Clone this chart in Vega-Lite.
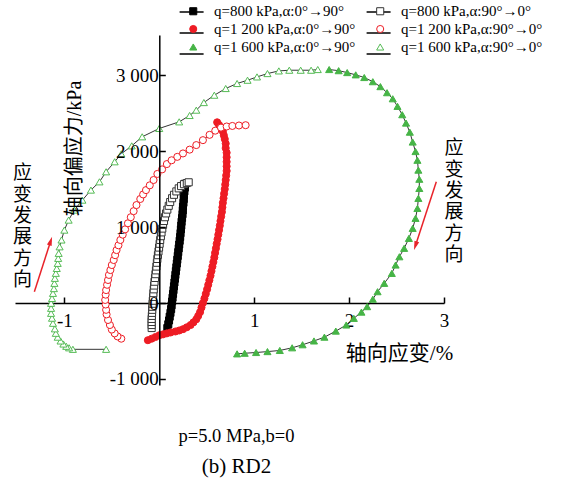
{
"$schema": "https://vega.github.io/schema/vega-lite/v6.json",
"width": 429, "height": 350,
"autosize": {"type": "none"},
"padding": {"left": 15, "top": 35, "right": 120, "bottom": 101},
"background": "white",
"config": {"view": {"stroke": null}, "font": "Liberation Serif"},
"title": {"text": "p=5.0 MPa,b=0", "subtitle": "(b) RD2", "orient": "bottom", "anchor": "middle", "dx": 7, "offset": 38, "font": "Liberation Serif", "fontSize": 18.5, "fontWeight": "normal", "color": "black", "subtitleFont": "Liberation Serif", "subtitleFontSize": 21, "subtitleColor": "black", "subtitlePadding": 11},
"datasets": {
"pts": [
{"s":"q=800 kPa,α:0°→90°","i":1,"x":0.27,"y":1570},{"s":"q=800 kPa,α:0°→90°","i":2,"x":0.27,"y":1520},{"s":"q=800 kPa,α:0°→90°","i":3,"x":0.265,"y":1470},{"s":"q=800 kPa,α:0°→90°","i":4,"x":0.26,"y":1420},{"s":"q=800 kPa,α:0°→90°","i":5,"x":0.258,"y":1370},{"s":"q=800 kPa,α:0°→90°","i":6,"x":0.255,"y":1320},{"s":"q=800 kPa,α:0°→90°","i":7,"x":0.25,"y":1270},{"s":"q=800 kPa,α:0°→90°","i":8,"x":0.248,"y":1220},{"s":"q=800 kPa,α:0°→90°","i":9,"x":0.245,"y":1170},{"s":"q=800 kPa,α:0°→90°","i":10,"x":0.24,"y":1120},{"s":"q=800 kPa,α:0°→90°","i":11,"x":0.235,"y":1070},{"s":"q=800 kPa,α:0°→90°","i":12,"x":0.232,"y":1020},{"s":"q=800 kPa,α:0°→90°","i":13,"x":0.228,"y":970},{"s":"q=800 kPa,α:0°→90°","i":14,"x":0.224,"y":920},{"s":"q=800 kPa,α:0°→90°","i":15,"x":0.22,"y":870},{"s":"q=800 kPa,α:0°→90°","i":16,"x":0.215,"y":820},{"s":"q=800 kPa,α:0°→90°","i":17,"x":0.21,"y":770},{"s":"q=800 kPa,α:0°→90°","i":18,"x":0.205,"y":720},{"s":"q=800 kPa,α:0°→90°","i":19,"x":0.2,"y":670},{"s":"q=800 kPa,α:0°→90°","i":20,"x":0.195,"y":620},{"s":"q=800 kPa,α:0°→90°","i":21,"x":0.19,"y":570},{"s":"q=800 kPa,α:0°→90°","i":22,"x":0.185,"y":520},{"s":"q=800 kPa,α:0°→90°","i":23,"x":0.18,"y":470},{"s":"q=800 kPa,α:0°→90°","i":24,"x":0.175,"y":420},{"s":"q=800 kPa,α:0°→90°","i":25,"x":0.17,"y":370},{"s":"q=800 kPa,α:0°→90°","i":26,"x":0.165,"y":320},{"s":"q=800 kPa,α:0°→90°","i":27,"x":0.16,"y":270},{"s":"q=800 kPa,α:0°→90°","i":28,"x":0.155,"y":220},{"s":"q=800 kPa,α:0°→90°","i":29,"x":0.15,"y":170},{"s":"q=800 kPa,α:0°→90°","i":30,"x":0.145,"y":120},{"s":"q=800 kPa,α:0°→90°","i":31,"x":0.14,"y":70},{"s":"q=800 kPa,α:0°→90°","i":32,"x":0.135,"y":20},{"s":"q=800 kPa,α:0°→90°","i":33,"x":0.13,"y":-30},{"s":"q=800 kPa,α:0°→90°","i":34,"x":0.125,"y":-80},{"s":"q=800 kPa,α:0°→90°","i":35,"x":0.118,"y":-130},{"s":"q=800 kPa,α:0°→90°","i":36,"x":0.11,"y":-180},{"s":"q=800 kPa,α:0°→90°","i":37,"x":0.103,"y":-230},{"s":"q=800 kPa,α:0°→90°","i":38,"x":0.095,"y":-280},{"s":"q=800 kPa,α:0°→90°","i":39,"x":0.085,"y":-330},
{"s":"q=800 kPa,α:90°→0°","i":1,"x":-0.08,"y":-330},{"s":"q=800 kPa,α:90°→0°","i":2,"x":-0.08,"y":-290},{"s":"q=800 kPa,α:90°→0°","i":3,"x":-0.08,"y":-250},{"s":"q=800 kPa,α:90°→0°","i":4,"x":-0.08,"y":-210},{"s":"q=800 kPa,α:90°→0°","i":5,"x":-0.078,"y":-170},{"s":"q=800 kPa,α:90°→0°","i":6,"x":-0.076,"y":-130},{"s":"q=800 kPa,α:90°→0°","i":7,"x":-0.074,"y":-90},{"s":"q=800 kPa,α:90°→0°","i":8,"x":-0.072,"y":-50},{"s":"q=800 kPa,α:90°→0°","i":9,"x":-0.07,"y":-10},{"s":"q=800 kPa,α:90°→0°","i":10,"x":-0.068,"y":30},{"s":"q=800 kPa,α:90°→0°","i":11,"x":-0.065,"y":80},{"s":"q=800 kPa,α:90°→0°","i":12,"x":-0.062,"y":130},{"s":"q=800 kPa,α:90°→0°","i":13,"x":-0.058,"y":180},{"s":"q=800 kPa,α:90°→0°","i":14,"x":-0.054,"y":230},{"s":"q=800 kPa,α:90°→0°","i":15,"x":-0.05,"y":280},{"s":"q=800 kPa,α:90°→0°","i":16,"x":-0.045,"y":330},{"s":"q=800 kPa,α:90°→0°","i":17,"x":-0.04,"y":380},{"s":"q=800 kPa,α:90°→0°","i":18,"x":-0.035,"y":430},{"s":"q=800 kPa,α:90°→0°","i":19,"x":-0.03,"y":480},{"s":"q=800 kPa,α:90°→0°","i":20,"x":-0.025,"y":530},{"s":"q=800 kPa,α:90°→0°","i":21,"x":-0.02,"y":580},{"s":"q=800 kPa,α:90°→0°","i":22,"x":-0.014,"y":630},{"s":"q=800 kPa,α:90°→0°","i":23,"x":-0.008,"y":680},{"s":"q=800 kPa,α:90°→0°","i":24,"x":-0.002,"y":730},{"s":"q=800 kPa,α:90°→0°","i":25,"x":0.004,"y":780},{"s":"q=800 kPa,α:90°→0°","i":26,"x":0.01,"y":830},{"s":"q=800 kPa,α:90°→0°","i":27,"x":0.017,"y":880},{"s":"q=800 kPa,α:90°→0°","i":28,"x":0.024,"y":930},{"s":"q=800 kPa,α:90°→0°","i":29,"x":0.032,"y":980},{"s":"q=800 kPa,α:90°→0°","i":30,"x":0.04,"y":1030},{"s":"q=800 kPa,α:90°→0°","i":31,"x":0.05,"y":1080},{"s":"q=800 kPa,α:90°→0°","i":32,"x":0.06,"y":1130},{"s":"q=800 kPa,α:90°→0°","i":33,"x":0.072,"y":1180},{"s":"q=800 kPa,α:90°→0°","i":34,"x":0.085,"y":1230},{"s":"q=800 kPa,α:90°→0°","i":35,"x":0.1,"y":1280},{"s":"q=800 kPa,α:90°→0°","i":36,"x":0.115,"y":1330},{"s":"q=800 kPa,α:90°→0°","i":37,"x":0.135,"y":1380},{"s":"q=800 kPa,α:90°→0°","i":38,"x":0.155,"y":1425},{"s":"q=800 kPa,α:90°→0°","i":39,"x":0.18,"y":1470},{"s":"q=800 kPa,α:90°→0°","i":40,"x":0.205,"y":1510},{"s":"q=800 kPa,α:90°→0°","i":41,"x":0.23,"y":1540},{"s":"q=800 kPa,α:90°→0°","i":42,"x":0.26,"y":1565},{"s":"q=800 kPa,α:90°→0°","i":43,"x":0.29,"y":1580},{"s":"q=800 kPa,α:90°→0°","i":44,"x":0.31,"y":1590},
{"s":"q=1 200 kPa,α:0°→90°","i":1,"x":0.61,"y":2380},{"s":"q=1 200 kPa,α:0°→90°","i":2,"x":0.63,"y":2345},{"s":"q=1 200 kPa,α:0°→90°","i":3,"x":0.65,"y":2305},{"s":"q=1 200 kPa,α:0°→90°","i":4,"x":0.67,"y":2260},{"s":"q=1 200 kPa,α:0°→90°","i":5,"x":0.68,"y":2210},{"s":"q=1 200 kPa,α:0°→90°","i":6,"x":0.69,"y":2160},{"s":"q=1 200 kPa,α:0°→90°","i":7,"x":0.7,"y":2100},{"s":"q=1 200 kPa,α:0°→90°","i":8,"x":0.7,"y":2040},{"s":"q=1 200 kPa,α:0°→90°","i":9,"x":0.71,"y":1980},{"s":"q=1 200 kPa,α:0°→90°","i":10,"x":0.71,"y":1920},{"s":"q=1 200 kPa,α:0°→90°","i":11,"x":0.71,"y":1860},{"s":"q=1 200 kPa,α:0°→90°","i":12,"x":0.71,"y":1800},{"s":"q=1 200 kPa,α:0°→90°","i":13,"x":0.71,"y":1740},{"s":"q=1 200 kPa,α:0°→90°","i":14,"x":0.705,"y":1680},{"s":"q=1 200 kPa,α:0°→90°","i":15,"x":0.7,"y":1620},{"s":"q=1 200 kPa,α:0°→90°","i":16,"x":0.695,"y":1560},{"s":"q=1 200 kPa,α:0°→90°","i":17,"x":0.69,"y":1500},{"s":"q=1 200 kPa,α:0°→90°","i":18,"x":0.683,"y":1440},{"s":"q=1 200 kPa,α:0°→90°","i":19,"x":0.677,"y":1380},{"s":"q=1 200 kPa,α:0°→90°","i":20,"x":0.67,"y":1320},{"s":"q=1 200 kPa,α:0°→90°","i":21,"x":0.665,"y":1260},{"s":"q=1 200 kPa,α:0°→90°","i":22,"x":0.66,"y":1200},{"s":"q=1 200 kPa,α:0°→90°","i":23,"x":0.652,"y":1140},{"s":"q=1 200 kPa,α:0°→90°","i":24,"x":0.645,"y":1080},{"s":"q=1 200 kPa,α:0°→90°","i":25,"x":0.638,"y":1020},{"s":"q=1 200 kPa,α:0°→90°","i":26,"x":0.63,"y":960},{"s":"q=1 200 kPa,α:0°→90°","i":27,"x":0.622,"y":900},{"s":"q=1 200 kPa,α:0°→90°","i":28,"x":0.614,"y":840},{"s":"q=1 200 kPa,α:0°→90°","i":29,"x":0.605,"y":780},{"s":"q=1 200 kPa,α:0°→90°","i":30,"x":0.597,"y":720},{"s":"q=1 200 kPa,α:0°→90°","i":31,"x":0.588,"y":660},{"s":"q=1 200 kPa,α:0°→90°","i":32,"x":0.58,"y":600},{"s":"q=1 200 kPa,α:0°→90°","i":33,"x":0.57,"y":540},{"s":"q=1 200 kPa,α:0°→90°","i":34,"x":0.56,"y":480},{"s":"q=1 200 kPa,α:0°→90°","i":35,"x":0.55,"y":420},{"s":"q=1 200 kPa,α:0°→90°","i":36,"x":0.54,"y":360},{"s":"q=1 200 kPa,α:0°→90°","i":37,"x":0.528,"y":300},{"s":"q=1 200 kPa,α:0°→90°","i":38,"x":0.516,"y":240},{"s":"q=1 200 kPa,α:0°→90°","i":39,"x":0.504,"y":180},{"s":"q=1 200 kPa,α:0°→90°","i":40,"x":0.49,"y":120},{"s":"q=1 200 kPa,α:0°→90°","i":41,"x":0.476,"y":60},{"s":"q=1 200 kPa,α:0°→90°","i":42,"x":0.46,"y":0},{"s":"q=1 200 kPa,α:0°→90°","i":43,"x":0.445,"y":-60},{"s":"q=1 200 kPa,α:0°→90°","i":44,"x":0.43,"y":-120},{"s":"q=1 200 kPa,α:0°→90°","i":45,"x":0.41,"y":-170},{"s":"q=1 200 kPa,α:0°→90°","i":46,"x":0.39,"y":-215},{"s":"q=1 200 kPa,α:0°→90°","i":47,"x":0.36,"y":-255},{"s":"q=1 200 kPa,α:0°→90°","i":48,"x":0.33,"y":-290},{"s":"q=1 200 kPa,α:0°→90°","i":49,"x":0.29,"y":-320},{"s":"q=1 200 kPa,α:0°→90°","i":50,"x":0.25,"y":-345},{"s":"q=1 200 kPa,α:0°→90°","i":51,"x":0.21,"y":-362},{"s":"q=1 200 kPa,α:0°→90°","i":52,"x":0.17,"y":-375},{"s":"q=1 200 kPa,α:0°→90°","i":53,"x":0.12,"y":-388},{"s":"q=1 200 kPa,α:0°→90°","i":54,"x":0.08,"y":-400},{"s":"q=1 200 kPa,α:0°→90°","i":55,"x":0.04,"y":-413},{"s":"q=1 200 kPa,α:0°→90°","i":56,"x":0.0,"y":-425},{"s":"q=1 200 kPa,α:0°→90°","i":57,"x":-0.04,"y":-448},{"s":"q=1 200 kPa,α:0°→90°","i":58,"x":-0.08,"y":-470},{"s":"q=1 200 kPa,α:0°→90°","i":59,"x":-0.12,"y":-490},
{"s":"q=1 200 kPa,α:90°→0°","i":1,"x":-0.4,"y":-470},{"s":"q=1 200 kPa,α:90°→0°","i":2,"x":-0.44,"y":-440},{"s":"q=1 200 kPa,α:90°→0°","i":3,"x":-0.47,"y":-400},{"s":"q=1 200 kPa,α:90°→0°","i":4,"x":-0.5,"y":-350},{"s":"q=1 200 kPa,α:90°→0°","i":5,"x":-0.52,"y":-290},{"s":"q=1 200 kPa,α:90°→0°","i":6,"x":-0.54,"y":-224},{"s":"q=1 200 kPa,α:90°→0°","i":7,"x":-0.555,"y":-150},{"s":"q=1 200 kPa,α:90°→0°","i":8,"x":-0.56,"y":-90},{"s":"q=1 200 kPa,α:90°→0°","i":9,"x":-0.565,"y":-20},{"s":"q=1 200 kPa,α:90°→0°","i":10,"x":-0.57,"y":40},{"s":"q=1 200 kPa,α:90°→0°","i":11,"x":-0.565,"y":110},{"s":"q=1 200 kPa,α:90°→0°","i":12,"x":-0.56,"y":170},{"s":"q=1 200 kPa,α:90°→0°","i":13,"x":-0.55,"y":240},{"s":"q=1 200 kPa,α:90°→0°","i":14,"x":-0.54,"y":303},{"s":"q=1 200 kPa,α:90°→0°","i":15,"x":-0.53,"y":370},{"s":"q=1 200 kPa,α:90°→0°","i":16,"x":-0.515,"y":434},{"s":"q=1 200 kPa,α:90°→0°","i":17,"x":-0.5,"y":500},{"s":"q=1 200 kPa,α:90°→0°","i":18,"x":-0.48,"y":566},{"s":"q=1 200 kPa,α:90°→0°","i":19,"x":-0.465,"y":630},{"s":"q=1 200 kPa,α:90°→0°","i":20,"x":-0.45,"y":697},{"s":"q=1 200 kPa,α:90°→0°","i":21,"x":-0.43,"y":760},{"s":"q=1 200 kPa,α:90°→0°","i":22,"x":-0.41,"y":830},{"s":"q=1 200 kPa,α:90°→0°","i":23,"x":-0.385,"y":900},{"s":"q=1 200 kPa,α:90°→0°","i":24,"x":-0.36,"y":970},{"s":"q=1 200 kPa,α:90°→0°","i":25,"x":-0.33,"y":1050},{"s":"q=1 200 kPa,α:90°→0°","i":26,"x":-0.3,"y":1130},{"s":"q=1 200 kPa,α:90°→0°","i":27,"x":-0.27,"y":1210},{"s":"q=1 200 kPa,α:90°→0°","i":28,"x":-0.24,"y":1290},{"s":"q=1 200 kPa,α:90°→0°","i":29,"x":-0.2,"y":1370},{"s":"q=1 200 kPa,α:90°→0°","i":30,"x":-0.17,"y":1430},{"s":"q=1 200 kPa,α:90°→0°","i":31,"x":-0.14,"y":1487},{"s":"q=1 200 kPa,α:90°→0°","i":32,"x":-0.1,"y":1550},{"s":"q=1 200 kPa,α:90°→0°","i":33,"x":-0.06,"y":1620},{"s":"q=1 200 kPa,α:90°→0°","i":34,"x":-0.02,"y":1700},{"s":"q=1 200 kPa,α:90°→0°","i":35,"x":0.03,"y":1760},{"s":"q=1 200 kPa,α:90°→0°","i":36,"x":0.08,"y":1830},{"s":"q=1 200 kPa,α:90°→0°","i":37,"x":0.13,"y":1880},{"s":"q=1 200 kPa,α:90°→0°","i":38,"x":0.19,"y":1925},{"s":"q=1 200 kPa,α:90°→0°","i":39,"x":0.25,"y":1970},{"s":"q=1 200 kPa,α:90°→0°","i":40,"x":0.32,"y":2020},{"s":"q=1 200 kPa,α:90°→0°","i":41,"x":0.39,"y":2080},{"s":"q=1 200 kPa,α:90°→0°","i":42,"x":0.46,"y":2145},{"s":"q=1 200 kPa,α:90°→0°","i":43,"x":0.53,"y":2215},{"s":"q=1 200 kPa,α:90°→0°","i":44,"x":0.59,"y":2270},{"s":"q=1 200 kPa,α:90°→0°","i":45,"x":0.65,"y":2310},{"s":"q=1 200 kPa,α:90°→0°","i":46,"x":0.71,"y":2325},{"s":"q=1 200 kPa,α:90°→0°","i":47,"x":0.77,"y":2332},{"s":"q=1 200 kPa,α:90°→0°","i":48,"x":0.84,"y":2338},{"s":"q=1 200 kPa,α:90°→0°","i":49,"x":0.91,"y":2342},
{"s":"q=1 600 kPa,α:0°→90°","i":1,"x":1.79,"y":3075},{"s":"q=1 600 kPa,α:0°→90°","i":2,"x":1.89,"y":3060},{"s":"q=1 600 kPa,α:0°→90°","i":3,"x":1.98,"y":3035},{"s":"q=1 600 kPa,α:0°→90°","i":4,"x":2.07,"y":3005},{"s":"q=1 600 kPa,α:0°→90°","i":5,"x":2.16,"y":2970},{"s":"q=1 600 kPa,α:0°→90°","i":6,"x":2.25,"y":2915},{"s":"q=1 600 kPa,α:0°→90°","i":7,"x":2.33,"y":2850},{"s":"q=1 600 kPa,α:0°→90°","i":8,"x":2.4,"y":2770},{"s":"q=1 600 kPa,α:0°→90°","i":9,"x":2.46,"y":2690},{"s":"q=1 600 kPa,α:0°→90°","i":10,"x":2.51,"y":2590},{"s":"q=1 600 kPa,α:0°→90°","i":11,"x":2.56,"y":2480},{"s":"q=1 600 kPa,α:0°→90°","i":12,"x":2.6,"y":2370},{"s":"q=1 600 kPa,α:0°→90°","i":13,"x":2.64,"y":2250},{"s":"q=1 600 kPa,α:0°→90°","i":14,"x":2.67,"y":2120},{"s":"q=1 600 kPa,α:0°→90°","i":15,"x":2.7,"y":1995},{"s":"q=1 600 kPa,α:0°→90°","i":16,"x":2.72,"y":1880},{"s":"q=1 600 kPa,α:0°→90°","i":17,"x":2.73,"y":1750},{"s":"q=1 600 kPa,α:0°→90°","i":18,"x":2.74,"y":1630},{"s":"q=1 600 kPa,α:0°→90°","i":19,"x":2.74,"y":1509},{"s":"q=1 600 kPa,α:0°→90°","i":20,"x":2.73,"y":1378},{"s":"q=1 600 kPa,α:0°→90°","i":21,"x":2.72,"y":1246},{"s":"q=1 600 kPa,α:0°→90°","i":22,"x":2.7,"y":1115},{"s":"q=1 600 kPa,α:0°→90°","i":23,"x":2.67,"y":983},{"s":"q=1 600 kPa,α:0°→90°","i":24,"x":2.63,"y":851},{"s":"q=1 600 kPa,α:0°→90°","i":25,"x":2.58,"y":720},{"s":"q=1 600 kPa,α:0°→90°","i":26,"x":2.53,"y":609},{"s":"q=1 600 kPa,α:0°→90°","i":27,"x":2.49,"y":500},{"s":"q=1 600 kPa,α:0°→90°","i":28,"x":2.45,"y":390},{"s":"q=1 600 kPa,α:0°→90°","i":29,"x":2.37,"y":259},{"s":"q=1 600 kPa,α:0°→90°","i":30,"x":2.3,"y":149},{"s":"q=1 600 kPa,α:0°→90°","i":31,"x":2.25,"y":50},{"s":"q=1 600 kPa,α:0°→90°","i":32,"x":2.19,"y":-48},{"s":"q=1 600 kPa,α:0°→90°","i":33,"x":2.13,"y":-120},{"s":"q=1 600 kPa,α:0°→90°","i":34,"x":2.05,"y":-202},{"s":"q=1 600 kPa,α:0°→90°","i":35,"x":1.97,"y":-290},{"s":"q=1 600 kPa,α:0°→90°","i":36,"x":1.86,"y":-370},{"s":"q=1 600 kPa,α:0°→90°","i":37,"x":1.74,"y":-450},{"s":"q=1 600 kPa,α:0°→90°","i":38,"x":1.63,"y":-500},{"s":"q=1 600 kPa,α:0°→90°","i":39,"x":1.51,"y":-550},{"s":"q=1 600 kPa,α:0°→90°","i":40,"x":1.4,"y":-590},{"s":"q=1 600 kPa,α:0°→90°","i":41,"x":1.27,"y":-625},{"s":"q=1 600 kPa,α:0°→90°","i":42,"x":1.14,"y":-640},{"s":"q=1 600 kPa,α:0°→90°","i":43,"x":1.02,"y":-652},{"s":"q=1 600 kPa,α:0°→90°","i":44,"x":0.9,"y":-662},{"s":"q=1 600 kPa,α:0°→90°","i":45,"x":0.82,"y":-670},
{"s":"q=1 600 kPa,α:90°→0°","i":1,"x":-0.56,"y":-610},{"s":"q=1 600 kPa,α:90°→0°","i":2,"x":-0.91,"y":-610},{"s":"q=1 600 kPa,α:90°→0°","i":3,"x":-0.95,"y":-590},{"s":"q=1 600 kPa,α:90°→0°","i":4,"x":-0.98,"y":-570},{"s":"q=1 600 kPa,α:90°→0°","i":5,"x":-1.01,"y":-540},{"s":"q=1 600 kPa,α:90°→0°","i":6,"x":-1.04,"y":-500},{"s":"q=1 600 kPa,α:90°→0°","i":7,"x":-1.07,"y":-450},{"s":"q=1 600 kPa,α:90°→0°","i":8,"x":-1.09,"y":-399},{"s":"q=1 600 kPa,α:90°→0°","i":9,"x":-1.1,"y":-340},{"s":"q=1 600 kPa,α:90°→0°","i":10,"x":-1.12,"y":-267},{"s":"q=1 600 kPa,α:90°→0°","i":11,"x":-1.13,"y":-200},{"s":"q=1 600 kPa,α:90°→0°","i":12,"x":-1.14,"y":-136},{"s":"q=1 600 kPa,α:90°→0°","i":13,"x":-1.14,"y":-70},{"s":"q=1 600 kPa,α:90°→0°","i":14,"x":-1.14,"y":-4},{"s":"q=1 600 kPa,α:90°→0°","i":15,"x":-1.13,"y":60},{"s":"q=1 600 kPa,α:90°→0°","i":16,"x":-1.12,"y":127},{"s":"q=1 600 kPa,α:90°→0°","i":17,"x":-1.11,"y":190},{"s":"q=1 600 kPa,α:90°→0°","i":18,"x":-1.105,"y":259},{"s":"q=1 600 kPa,α:90°→0°","i":19,"x":-1.1,"y":325},{"s":"q=1 600 kPa,α:90°→0°","i":20,"x":-1.09,"y":391},{"s":"q=1 600 kPa,α:90°→0°","i":21,"x":-1.08,"y":455},{"s":"q=1 600 kPa,α:90°→0°","i":22,"x":-1.07,"y":522},{"s":"q=1 600 kPa,α:90°→0°","i":23,"x":-1.065,"y":588},{"s":"q=1 600 kPa,α:90°→0°","i":24,"x":-1.06,"y":654},{"s":"q=1 600 kPa,α:90°→0°","i":25,"x":-1.05,"y":740},{"s":"q=1 600 kPa,α:90°→0°","i":26,"x":-1.03,"y":830},{"s":"q=1 600 kPa,α:90°→0°","i":27,"x":-1.0,"y":960},{"s":"q=1 600 kPa,α:90°→0°","i":28,"x":-0.955,"y":1092},{"s":"q=1 600 kPa,α:90°→0°","i":29,"x":-0.895,"y":1224},{"s":"q=1 600 kPa,α:90°→0°","i":30,"x":-0.81,"y":1355},{"s":"q=1 600 kPa,α:90°→0°","i":31,"x":-0.72,"y":1487},{"s":"q=1 600 kPa,α:90°→0°","i":32,"x":-0.63,"y":1596},{"s":"q=1 600 kPa,α:90°→0°","i":33,"x":-0.56,"y":1728},{"s":"q=1 600 kPa,α:90°→0°","i":34,"x":-0.47,"y":1860},{"s":"q=1 600 kPa,α:90°→0°","i":35,"x":-0.4,"y":1965},{"s":"q=1 600 kPa,α:90°→0°","i":36,"x":-0.29,"y":2070},{"s":"q=1 600 kPa,α:90°→0°","i":37,"x":-0.18,"y":2189},{"s":"q=1 600 kPa,α:90°→0°","i":38,"x":0.0,"y":2299},{"s":"q=1 600 kPa,α:90°→0°","i":39,"x":0.21,"y":2386},{"s":"q=1 600 kPa,α:90°→0°","i":40,"x":0.32,"y":2470},{"s":"q=1 600 kPa,α:90°→0°","i":41,"x":0.39,"y":2540},{"s":"q=1 600 kPa,α:90°→0°","i":42,"x":0.47,"y":2640},{"s":"q=1 600 kPa,α:90°→0°","i":43,"x":0.58,"y":2737},{"s":"q=1 600 kPa,α:90°→0°","i":44,"x":0.7,"y":2825},{"s":"q=1 600 kPa,α:90°→0°","i":45,"x":0.82,"y":2891},{"s":"q=1 600 kPa,α:90°→0°","i":46,"x":0.93,"y":2934},{"s":"q=1 600 kPa,α:90°→0°","i":47,"x":1.03,"y":2978},{"s":"q=1 600 kPa,α:90°→0°","i":48,"x":1.14,"y":3022},{"s":"q=1 600 kPa,α:90°→0°","i":49,"x":1.26,"y":3057},{"s":"q=1 600 kPa,α:90°→0°","i":50,"x":1.37,"y":3066},{"s":"q=1 600 kPa,α:90°→0°","i":51,"x":1.49,"y":3066},{"s":"q=1 600 kPa,α:90°→0°","i":52,"x":1.6,"y":3066},{"s":"q=1 600 kPa,α:90°→0°","i":53,"x":1.67,"y":3075}
],
"notes": [
{"x": -1.44, "y": 1711, "t": ["应","变","发","展","方","向"]},
{"x": 3.105, "y": 2039, "t": ["应","变","发","展","方","向"]}
],
"arrows": [
{"x": -1.316, "y": 149, "x2": -1.144, "y2": 816},
{"x": 2.919, "y": 1596, "x2": 2.699, "y2": 754}
]
},
"layer": [
{
"data": {"name": "pts"},
"transform": [{"filter": "datum.i > 0"}],
"mark": {"type": "line", "color": "black", "strokeWidth": 0.8},
"encoding": {
"x": {"field": "x", "type": "quantitative", "scale": {"domain": [-1.52, 3], "nice": false, "zero": false},
 "axis": {"orient": "bottom", "offset": -82, "values": [-1, 1, 2, 3], "tickSize": -6, "tickWidth": 1.5, "tickColor": "black", "domainColor": "black", "domainWidth": 1.5, "grid": false, "labelPadding": 14, "labelFont": "Liberation Serif", "labelFontSize": 19, "labelColor": "black", "labelFlush": false, "labelOverlap": false, "labelExpr": "datum.value < 0 ? '-' + format(-datum.value, 'd') : format(datum.value, 'd')",
  "title": "轴向应变/%", "titleX": 384, "titleY": 50, "titleAlign": "center", "titleBaseline": "middle", "titleFont": "Liberation Serif, Noto Sans CJK SC", "titleFontSize": 21, "titleFontWeight": "normal", "titleColor": "black"}},
"y": {"field": "y", "type": "quantitative", "scale": {"domain": [-1080, 3530], "nice": false, "zero": false},
 "axis": {"orient": "left", "offset": -144.3, "zindex": 1, "values": [-1000, 0, 1000, 2000, 3000], "tickSize": -6, "tickWidth": 1.5, "tickColor": "black", "domainColor": "black", "domainWidth": 1.5, "grid": false, "labelPadding": 7, "labelFont": "Liberation Serif", "labelFontSize": 19, "labelColor": "black", "labelFlush": false, "labelOverlap": false, "labelExpr": "datum.value < 0 ? '-' + replace(format(-datum.value, ','), ',', ' ') : replace(format(datum.value, ','), ',', ' ')",
  "title": "轴向偏应力/kPa", "titleX": -85, "titleY": 113, "titleAngle": -90, "titleAlign": "center", "titleBaseline": "middle", "titleFont": "Liberation Serif, Noto Sans CJK SC", "titleFontSize": 20, "titleFontWeight": "normal", "titleColor": "black"}},
"detail": {"field": "s"},
"order": {"field": "i", "type": "quantitative"},
"opacity": {"field": "s", "type": "nominal", "scale": {"domain": ["q=1 200 kPa,α:0°→90°", "q=1 200 kPa,α:90°→0°", "q=1 600 kPa,α:0°→90°", "q=1 600 kPa,α:90°→0°", "q=800 kPa,α:0°→90°", "q=800 kPa,α:90°→0°"], "range": [1, 1, 1, 1, 1, 1]},
 "legend": {"orient": "none", "direction": "horizontal", "legendX": 163.6, "legendY": -36, "columns": 2, "columnPadding": 12, "rowPadding": -7, "symbolType": "stroke", "symbolSize": 576, "symbolStrokeWidth": 1.5, "symbolStrokeColor": "black", "labelOpacity": 0, "labelFont": "Liberation Serif", "labelFontSize": 15, "labelOffset": 5, "title": null, "zindex": 0}}
}
},
{
"data": {"name": "pts"},
"mark": {"type": "point", "strokeWidth": 1, "opacity": 1},
"encoding": {
"x": {"field": "x", "type": "quantitative"},
"y": {"field": "y", "type": "quantitative"},
"shape": {"field": "s", "type": "nominal", "scale": {"domain": ["q=800 kPa,α:0°→90°", "q=800 kPa,α:90°→0°", "q=1 200 kPa,α:0°→90°", "q=1 200 kPa,α:90°→0°", "q=1 600 kPa,α:0°→90°", "q=1 600 kPa,α:90°→0°"], "range": ["square", "square", "circle", "circle", "triangle-up", "triangle-up"]},
 "legend": {"orient": "none", "direction": "horizontal", "legendX": 170.75, "legendY": -31.5, "columns": 2, "columnPadding": 16.95, "rowPadding": 2, "symbolStrokeWidth": 1, "labelFont": "Liberation Serif", "labelFontSize": 15, "labelColor": "black", "labelOffset": 13.25, "title": null, "zindex": 1}},
"fill": {"field": "s", "type": "nominal", "scale": {"domain": ["q=800 kPa,α:0°→90°", "q=800 kPa,α:90°→0°", "q=1 200 kPa,α:0°→90°", "q=1 200 kPa,α:90°→0°", "q=1 600 kPa,α:0°→90°", "q=1 600 kPa,α:90°→0°"], "range": ["#000000", "#ffffff", "#ee1c24", "#ffffff", "#46b446", "#ffffff"]},
 "legend": {"orient": "none", "direction": "horizontal", "legendX": 170.75, "legendY": -31.5, "columns": 2, "columnPadding": 16.95, "rowPadding": 2, "symbolStrokeWidth": 1, "labelFont": "Liberation Serif", "labelFontSize": 15, "labelColor": "black", "labelOffset": 13.25, "title": null, "zindex": 1}},
"stroke": {"field": "s", "type": "nominal", "scale": {"domain": ["q=800 kPa,α:0°→90°", "q=800 kPa,α:90°→0°", "q=1 200 kPa,α:0°→90°", "q=1 200 kPa,α:90°→0°", "q=1 600 kPa,α:0°→90°", "q=1 600 kPa,α:90°→0°"], "range": ["#000000", "#333333", "#ee1c24", "#ee1c24", "#46b446", "#55bb55"]},
 "legend": {"orient": "none", "direction": "horizontal", "legendX": 170.75, "legendY": -31.5, "columns": 2, "columnPadding": 16.95, "rowPadding": 2, "symbolStrokeWidth": 1, "labelFont": "Liberation Serif", "labelFontSize": 15, "labelColor": "black", "labelOffset": 13.25, "title": null, "zindex": 1}},
"size": {"field": "s", "type": "nominal", "scale": {"domain": ["q=800 kPa,α:0°→90°", "q=800 kPa,α:90°→0°", "q=1 200 kPa,α:0°→90°", "q=1 200 kPa,α:90°→0°", "q=1 600 kPa,α:0°→90°", "q=1 600 kPa,α:90°→0°"], "range": [50, 50, 90, 90, 110, 110]},
 "legend": {"orient": "none", "direction": "horizontal", "legendX": 170.75, "legendY": -31.5, "columns": 2, "columnPadding": 16.95, "rowPadding": 2, "symbolStrokeWidth": 1, "labelFont": "Liberation Serif", "labelFontSize": 15, "labelColor": "black", "labelOffset": 13.25, "title": null, "zindex": 1}}
}
},
{
"data": {"name": "arrows"},
"mark": {"type": "rule", "color": "#e8232a", "strokeWidth": 1.5},
"encoding": {
"x": {"field": "x", "type": "quantitative"},
"y": {"field": "y", "type": "quantitative"},
"x2": {"field": "x2"},
"y2": {"field": "y2"}
}
},
{
"data": {"values": [{"x": -1.144, "y": 816}]},
"mark": {"type": "point", "shape": "M0,-1L0.55,1L-0.55,1Z", "filled": true, "color": "#e8232a", "opacity": 1, "size": 81, "angle": 18},
"encoding": {"x": {"field": "x", "type": "quantitative"}, "y": {"field": "y", "type": "quantitative"}}
},
{
"data": {"values": [{"x": 2.699, "y": 754}]},
"mark": {"type": "point", "shape": "M0,-1L0.55,1L-0.55,1Z", "filled": true, "color": "#e8232a", "opacity": 1, "size": 81, "angle": 198},
"encoding": {"x": {"field": "x", "type": "quantitative"}, "y": {"field": "y", "type": "quantitative"}}
},
{
"data": {"name": "notes"},
"mark": {"type": "text", "font": "Noto Sans CJK SC", "fontSize": 19, "lineHeight": 21.4, "align": "center", "baseline": "middle", "color": "black"},
"encoding": {"x": {"field": "x", "type": "quantitative"}, "y": {"field": "y", "type": "quantitative"}, "text": {"field": "t"}}
}
]
}
